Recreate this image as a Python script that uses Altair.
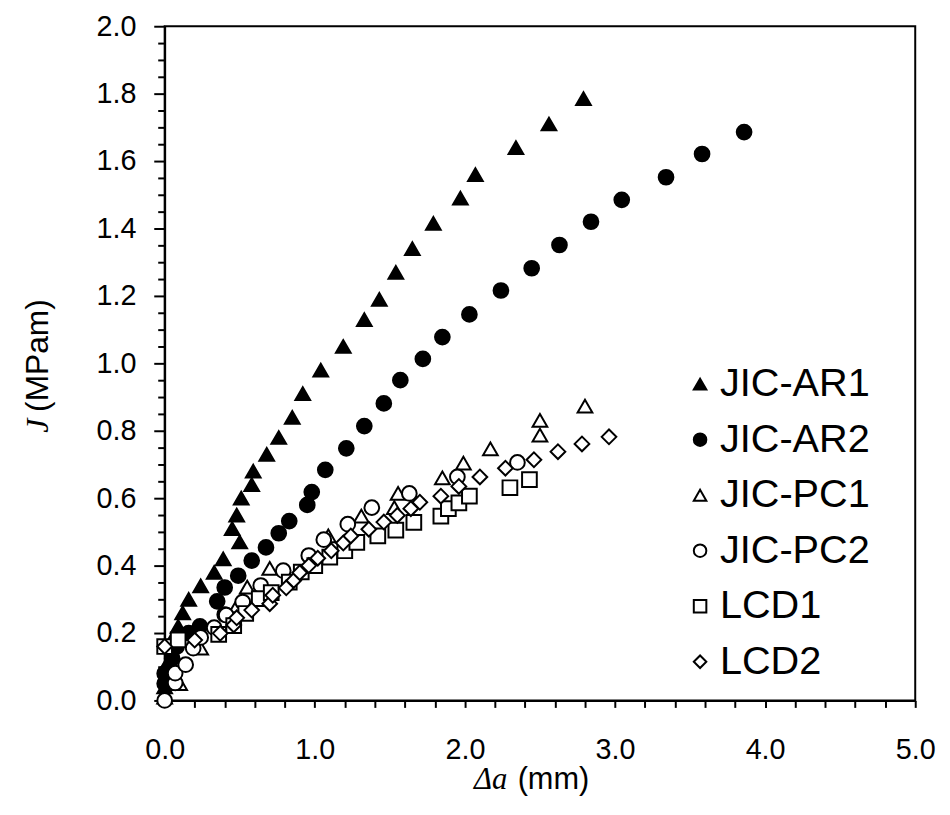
import altair as alt
import pandas as pd

series = ["JIC-AR1", "JIC-AR2", "JIC-PC1", "JIC-PC2", "LCD1", "LCD2"]
shapes = ["triangle-up", "circle", "triangle-up", "circle", "square", "diamond"]
fills = ["black", "black", "white", "white", "white", "white"]
strokes = ["black", "black", "black", "black", "black", "black"]

ar1_x = [0.00, 0.03, 0.06, 0.09, 0.12, 0.16, 0.24, 0.33, 0.39, 0.50, 0.45, 0.48, 0.51,
         0.58, 0.59, 0.68, 0.76, 0.85, 0.92, 1.04, 1.19, 1.33, 1.43, 1.54, 1.65, 1.79,
         1.97, 2.07, 2.34, 2.56, 2.79]
ar1_y = [0.04, 0.12, 0.19, 0.22, 0.26, 0.30, 0.34, 0.38, 0.42, 0.47, 0.51, 0.55, 0.60,
         0.64, 0.68, 0.73, 0.78, 0.84, 0.91, 0.98, 1.05, 1.13, 1.19, 1.27, 1.34, 1.415,
         1.49, 1.56, 1.64, 1.71, 1.785]

ar2_x = [0.00, 0.00, 0.05, 0.08, 0.16, 0.235, 0.40, 0.35, 0.40, 0.49, 0.58, 0.675, 0.76,
         0.83, 0.95, 0.98, 1.07, 1.21, 1.33, 1.46, 1.57, 1.72, 1.85, 2.03, 2.24, 2.445,
         2.63, 2.84, 3.045, 3.34, 3.58, 3.86]
ar2_y = [0.05, 0.08, 0.125, 0.16, 0.20, 0.22, 0.255, 0.294, 0.335, 0.37, 0.415, 0.454, 0.496,
         0.532, 0.58, 0.618, 0.684, 0.748, 0.814, 0.881, 0.95, 1.013, 1.078, 1.145, 1.216, 1.282,
         1.351, 1.42, 1.485, 1.552, 1.621, 1.686]

pc1_x = [0.00, 0.10, 0.24, 0.48, 0.55, 0.70, 1.09, 1.31, 1.53, 1.555, 1.85, 1.99, 2.17,
         2.50, 2.50, 2.80]
pc1_y = [0.01, 0.05, 0.155, 0.28, 0.336, 0.392, 0.488, 0.547, 0.572, 0.614, 0.66, 0.704, 0.746,
         0.787, 0.831, 0.873]

pc2_x = [0.00, 0.07, 0.07, 0.14, 0.19, 0.24, 0.33, 0.41, 0.52, 0.64, 0.79, 0.96, 1.06,
         1.22, 1.38, 1.63, 1.95, 2.35]
pc2_y = [0.00, 0.052, 0.081, 0.106, 0.155, 0.187, 0.216, 0.253, 0.292, 0.341, 0.385, 0.43, 0.477,
         0.523, 0.572, 0.614, 0.663, 0.706]

lcd1_x = [0.00, 0.09, 0.36, 0.46, 0.54, 0.63, 0.71, 0.83, 0.91, 1.00, 1.10, 1.20, 1.28,
          1.42, 1.54, 1.66, 1.84, 1.89, 1.96, 2.03, 2.30, 2.43]
lcd1_y = [0.16, 0.18, 0.196, 0.222, 0.258, 0.302, 0.32, 0.351, 0.381, 0.40, 0.425, 0.444, 0.469,
          0.488, 0.505, 0.528, 0.547, 0.569, 0.586, 0.606, 0.631, 0.655]

lcd2_x = [0.00, 0.20, 0.37, 0.46, 0.48, 0.58, 0.70, 0.72, 0.81, 0.86, 0.90, 0.96, 1.02,
          1.11, 1.19, 1.24, 1.36, 1.46, 1.55, 1.64, 1.70, 1.84, 1.96, 2.10, 2.27, 2.46,
          2.62, 2.78, 2.96]
lcd2_y = [0.16, 0.179, 0.199, 0.224, 0.245, 0.268, 0.287, 0.312, 0.334, 0.356, 0.379, 0.40, 0.422,
          0.444, 0.467, 0.488, 0.508, 0.529, 0.549, 0.569, 0.588, 0.606, 0.635, 0.663, 0.689, 0.714,
          0.738, 0.761, 0.782]

x_ticks = [round(i * 0.2, 2) for i in range(26)]
y_ticks = [round(i * 0.05, 2) for i in range(41)]

rows = []
for name, xs, ys in zip(series,
                        [ar1_x, ar2_x, pc1_x, pc2_x, lcd1_x, lcd2_x],
                        [ar1_y, ar2_y, pc1_y, pc2_y, lcd1_y, lcd2_y]):
    for xv, yv in zip(xs, ys):
        rows.append({"series": name, "da": xv, "J": yv})
df = pd.DataFrame(rows)

legend = alt.Legend(title=None, orient="none", legendX=520, legendY=341,
                    labelFont="Liberation Sans", labelFontSize=40, labelColor="black",
                    symbolSize=160, symbolStrokeWidth=2,
                    rowPadding=16, labelOffset=0, padding=0)

points = alt.Chart(df).mark_point(filled=True, size=220, strokeWidth=2, opacity=1).encode(
    x=alt.X("da:Q", scale=alt.Scale(domain=[0, 5], nice=False, zero=False),
            axis=alt.Axis(title=None, values=x_ticks, grid=False,
                          labelExpr="abs(datum.value - round(datum.value)) < 0.001 ? format(datum.value, '.1f') : ''",
                          tickSize=7, labelPadding=52, labelBaseline="alphabetic",
                          labelFlush=False, labelOverlap=False, labelBound=False)),
    y=alt.Y("J:Q", scale=alt.Scale(domain=[0, 2], nice=False),
            axis=alt.Axis(title=None, values=y_ticks, grid=False,
                          labelExpr="abs(datum.value*5 - round(datum.value*5)) < 0.001 ? format(datum.value, '.1f') : ''",
                          tickSize={"condition": {"test": "abs(datum.value*5 - round(datum.value*5)) < 0.001", "value": 11}, "value": 7},
                          labelPadding=18, labelAlign="right", labelBaseline="middle",
                          labelFlush=False, labelOverlap=False, labelBound=False)),
    shape=alt.Shape("series:N", scale=alt.Scale(domain=series, range=shapes), legend=legend),
    fill=alt.Fill("series:N", scale=alt.Scale(domain=series, range=fills), legend=legend),
    stroke=alt.Stroke("series:N", scale=alt.Scale(domain=series, range=strokes), legend=legend),
)


def label(text, x, y, font, style, size, angle=0):
    return alt.Chart(pd.DataFrame({"t": [text]})).mark_text(
        align="left", baseline="alphabetic", font=font, fontStyle=style,
        fontSize=size, angle=angle, color="black").encode(
        x=alt.value(x), y=alt.value(y), text="t:N")


ytitle_j = label("J", -118, 410, "Liberation Serif", "italic", 32, 270)
ytitle_u = label("(MPam)", -118, 389, "Liberation Sans", "normal", 32, 270)
xtitle_a = label("Δa", 312, 769, "Liberation Serif", "italic", 31)
xtitle_u = label("(mm)", 356, 769, "Liberation Sans", "normal", 31)

chart = alt.layer(points, ytitle_j, ytitle_u, xtitle_a, xtitle_u).properties(
    width=757, height=680,
    autosize=alt.AutoSizeParams(type="none"),
    padding={"left": 158, "top": 15, "right": 27, "bottom": 95},
    background="white",
).configure_view(stroke="black", strokeWidth=2).configure_axis(
    domainColor="black", domainWidth=2, tickColor="black", tickWidth=2,
    labelFont="Liberation Sans", labelFontSize=29, labelColor="black",
)

chart.save("out.html", embed_options={"renderer": "svg", "actions": False})
